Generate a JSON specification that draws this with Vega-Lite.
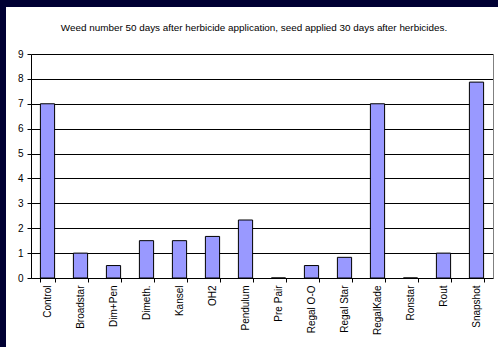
{
  "$schema": "https://vega.github.io/schema/vega-lite/v6.json",
  "background": "#000033",
  "padding": {"left": 6, "top": 7, "right": 0, "bottom": 0},
  "autosize": {"type": "none"},
  "width": 492,
  "height": 340,
  "config": {
    "view": {"stroke": null, "fill": "white"},
    "font": "Liberation Sans"
  },
  "title": {
    "text": "Weed number 50 days after herbicide application, seed applied 30 days after herbicides.",
    "fontSize": 9.9,
    "fontWeight": "normal",
    "color": "#000000",
    "anchor": "middle",
    "frame": "group",
    "offset": -26,
    "dx": 2
  },
  "data": {
    "values": [
      {"treatment": "Control", "weeds": 7},
      {"treatment": "Broadstar", "weeds": 1},
      {"treatment": "Dim+Pen", "weeds": 0.5},
      {"treatment": "Dimeth.", "weeds": 1.5},
      {"treatment": "Kansel", "weeds": 1.5},
      {"treatment": "OH2", "weeds": 1.67},
      {"treatment": "Pendulum", "weeds": 2.33},
      {"treatment": "Pre Pair", "weeds": 0},
      {"treatment": "Regal O-O", "weeds": 0.5},
      {"treatment": "Regal Star", "weeds": 0.83},
      {"treatment": "RegalKade", "weeds": 7},
      {"treatment": "Ronstar", "weeds": 0},
      {"treatment": "Rout", "weeds": 1},
      {"treatment": "Snapshot", "weeds": 7.87}
    ]
  },
  "encoding": {
    "x": {
      "field": "treatment",
      "type": "nominal",
      "sort": null,
      "scale": {"range": [25, 487], "paddingInner": 0.57, "paddingOuter": 0.285},
      "axis": {
        "title": null,
        "offset": -69,
        "labelAngle": -90,
        "labelFontSize": 10,
        "labelColor": "#000000",
        "labelPadding": 3,
        "tickBand": "extent",
        "tickSize": 4,
        "tickColor": "#000000",
        "domainColor": "#000000",
        "grid": false
      }
    },
    "y": {
      "field": "weeds",
      "type": "quantitative",
      "scale": {"domain": [0, 9], "nice": false, "range": [271, 47]}
    }
  },
  "layer": [
    {
      "mark": {"type": "bar", "fill": "#9999FF", "stroke": "#000000", "strokeWidth": 1},
      "encoding": {
        "y": {
          "field": "weeds",
          "type": "quantitative",
          "axis": {
            "title": null,
            "offset": -25,
            "values": [0, 1, 2, 3, 4, 5, 6, 7, 8, 9],
            "labelFontSize": 10,
            "labelColor": "#000000",
            "labelPadding": 4,
            "tickSize": 4,
            "tickColor": "#000000",
            "domainColor": "#000000",
            "grid": true,
            "gridColor": "#000000",
            "gridOpacity": 1
          }
        }
      }
    },
    {
      "mark": {"type": "bar", "opacity": 0},
      "encoding": {
        "y": {
          "field": "weeds",
          "type": "quantitative",
          "axis": {
            "title": null,
            "orient": "right",
            "offset": -5,
            "labels": false,
            "ticks": false,
            "grid": false,
            "domainColor": "#808080"
          }
        }
      }
    }
  ],
  "resolve": {"axis": {"y": "independent"}}
}
